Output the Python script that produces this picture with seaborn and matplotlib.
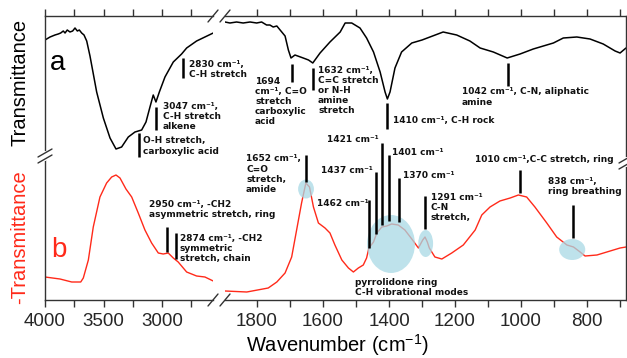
import numpy as np
import pandas as pd
import matplotlib
matplotlib.use("Agg")
import matplotlib.pyplot as plt
from matplotlib.patches import Ellipse
import seaborn as sns

# ---------------- data ----------------
# curve a (Transmittance, offset upward), high-wavenumber segment
a_hi_wn = [4000, 3957, 3915, 3887, 3866, 3844, 3829, 3810, 3787, 3764, 3744, 3724, 3707,
           3687, 3667, 3644, 3616, 3559, 3502, 3445, 3394, 3346, 3289,
           3232, 3175, 3138, 3104, 3076, 3053, 3024, 2976, 2905, 2834, 2791, 2706, 2564]
a_hi_t = [260, 263, 265, 266, 267, 269, 267, 270, 268, 269, 272, 269, 270,
          267, 265, 259, 244, 208, 182, 162, 151, 153, 163,
          168, 170, 178, 193, 205, 198, 208, 223, 238, 246, 252, 259, 267]
# curve a, fingerprint segment
a_lo_wn = [1897, 1882, 1862, 1842, 1821, 1801, 1786, 1771, 1761, 1751, 1740, 1730, 1715,
           1705, 1697, 1685, 1660, 1644, 1631, 1609,
           1579, 1548, 1533, 1513, 1488, 1468, 1447, 1427, 1412, 1405, 1397, 1382, 1362,
           1331, 1300, 1236, 1195, 1155, 1124, 1084, 1042, 1003, 963, 902, 872, 831, 791,
           751, 715, 700, 682]
a_lo_t = [278, 277, 278, 277, 278, 277, 278, 275, 275, 273, 274, 270, 264,
          250, 242, 245, 242, 240, 237, 247,
          258, 268, 277, 277, 272, 262, 248, 228, 208, 201, 208, 232, 248,
          257, 260, 268, 265, 259, 252, 248, 242, 246, 251, 257, 262, 263, 261,
          256, 249, 247, 252]
# curve b (-Transmittance), high-wavenumber segment
b_hi_wn = [4000, 3872, 3772, 3695, 3673, 3630, 3588, 3531, 3474, 3431, 3394, 3360, 3309,
           3260, 3204, 3147, 3090, 3033, 2991, 2948, 2905, 2863, 2791, 2706, 2635, 2564]
b_hi_t = [23, 21, 18, 18, 22, 40, 73, 103, 117, 123, 125, 122, 111,
          103, 87, 70, 57, 47, 46, 47, 42, 38, 28, 24, 23, 19]
# curve b, fingerprint segment
b_lo_wn = [1897, 1831, 1766, 1740, 1715, 1695, 1680, 1665, 1652, 1641, 1629, 1614, 1594,
           1579, 1564, 1543, 1523, 1508, 1493, 1478, 1468, 1461, 1447, 1437, 1422, 1407,
           1392, 1372, 1352, 1331, 1311, 1298, 1291, 1284, 1278, 1261, 1240, 1210, 1175,
           1139, 1119, 1094, 1064, 1033, 1008, 983, 958, 922, 892, 861, 841, 821, 806,
           770, 740, 700, 682]
b_lo_t = [9, 8, 12, 18, 27, 43, 70, 97, 117, 113, 93, 77, 72,
          67, 55, 40, 32, 28, 32, 35, 42, 52, 58, 67, 73, 74,
          76, 75, 70, 61, 52, 60, 63, 58, 52, 43, 41, 47, 55,
          70, 85, 93, 99, 102, 105, 103, 93, 77, 63, 55, 53, 48, 44,
          45, 48, 52, 53]

# annotations: (text, panel, line_wn, line_y0, line_y1, text_wn, text_y, va)
a_notes = [
    ("2830 cm⁻¹,\nC-H stretch", 0, 2822, 222, 242, 2771, 240, "top"),
    ("3047 cm⁻¹,\nC-H stretch\nalkene", 0, 3053, 170, 193, 2993, 198.5, "top"),
    ("O-H stretch,\ncarboxylic acid", 0, 3198, 143, 167, 3164, 163.5, "top"),
    ("1694\ncm⁻¹, C=O\nstretch\ncarboxylic\nacid", 1, 1694, 218, 236, 1806, 223.5, "top"),
    ("1632 cm⁻¹,\nC=C stretch\nor N-H\namine\nstretch", 1, 1631, 210, 232, 1615, 234, "top"),
    ("1410 cm⁻¹, C-H rock", 1, 1406, 171, 197, 1388, 179, "center"),
    ("1042 cm⁻¹, C-N, aliphatic\namine", 1, 1040, 214, 237, 1179, 212.5, "top"),
]
b_notes = [
    ("1652 cm⁻¹,\nC=O\nstretch,\namide", 1, 1651.5, 118, 145, 1833, 145.5, "top"),
    ("2950 cm⁻¹, -CH2\nasymmetric stretch, ring", 0, 2962, 48, 73, 3113, 100.5, "top"),
    ("2874 cm⁻¹, -CH2\nsymmetric\nstretch, chain", 0, 2885, 41, 67, 2848, 66.2, "top"),
    ("1462 cm⁻¹", 1, 1461, 52, 100, 1619, 97, "center"),
    ("1437 cm⁻¹", 1, 1440, 66, 128, 1607, 129.3, "center"),
    ("1421 cm⁻¹", 1, 1422, 75, 157, 1589, 160.7, "center"),
    ("1401 cm⁻¹", 1, 1400, 79, 145, 1392, 147.3, "center"),
    ("1370 cm⁻¹", 1, 1370, 78, 122, 1358.5, 124, "center"),
    ("1291 cm⁻¹\nC-N\nstretch,", 1, 1291, 71, 104, 1274, 107.2, "top"),
    ("1010 cm⁻¹,C-C stretch, ring", 1, 1004.5, 107, 130, 1139, 140.7, "center"),
    ("838 cm⁻¹,\nring breathing", 1, 841.5, 62, 95, 917, 123.2, "top"),
]
region_note = ("pyrrolidone ring\nC-H vibrational modes", 1503, 22.2)
# highlighted bands: (center wn, center y, width, height)
highlights = [(1651.5, 111, 48, 19), (1394, 56, 145, 58), (1289, 56.5, 45, 27), (845, 50.5, 79, 21)]

# ---------------- figure ----------------
sns.set_style("ticks")
plt.rcParams["font.family"] = ["Liberation Sans", "DejaVu Sans"]
plt.rcParams["mathtext.fontset"] = "custom"
plt.rcParams["mathtext.rm"] = "Liberation Sans"
plt.rcParams["mathtext.it"] = "Liberation Sans:italic"

W, H = 627, 358
fig = plt.figure(figsize=(W / 100, H / 100), dpi=100)
fig.patch.set_facecolor("white")
bottom, top = 300, 16
axL = fig.add_axes([45 / W, (H - bottom) / H, (213 - 45) / W, (bottom - top) / H])
axR = fig.add_axes([225 / W, (H - bottom) / H, (626 - 225) / W, (bottom - top) / H])
axes = [axL, axR]
for ax in axes:
    ax.set_facecolor("none")
    ax.set_ylim(0, 284)
    ax.set_yticks([])

RED = "#ff2a1a"
sns.lineplot(x=a_hi_wn, y=a_hi_t, ax=axL, color="black", linewidth=1.1, sort=False)
sns.lineplot(x=b_hi_wn, y=b_hi_t, ax=axL, color=RED, linewidth=1.0, sort=False)
sns.lineplot(x=a_lo_wn, y=a_lo_t, ax=axR, color="black", linewidth=1.1, sort=False)
sns.lineplot(x=b_lo_wn, y=b_lo_t, ax=axR, color=RED, linewidth=1.0, sort=False)

axL.set_xlim(4000, 2566)
axR.set_xlim(1897, 682)

axL.set_xticks([4000, 3500, 3000])
axL.set_xticks([3750, 3250, 2750], minor=True)
axR.set_xticks([1800, 1600, 1400, 1200, 1000, 800])
axR.set_xticks([1700, 1500, 1300, 1100, 900, 700], minor=True)
for ax in axes:
    ax.set_ylabel("")
    ax.set_xlabel("")
    ax.tick_params(axis="x", which="both", direction="out", top=True, bottom=True,
                   length=5, width=1, color="#333333", labelsize=13.5, pad=4)
    for s in ax.spines.values():
        s.set_color("#333333")
        s.set_linewidth(1)
axL.spines["right"].set_visible(False)
axR.spines["left"].set_visible(False)
axR.spines["right"].set_visible(True)
axL.spines["left"].set_visible(True)

# highlighted bands
for (cx, cy, w, h) in highlights:
    axR.add_patch(Ellipse((cx, cy), w, h, facecolor="#a9d9e5", edgecolor="none",
                          alpha=0.75, zorder=5))

ann_kw = dict(fontsize=6.5, fontweight="bold", family="DejaVu Sans", color="#111111",
              linespacing=1.15, ha="left", clip_on=False, zorder=6)
for notes in (a_notes, b_notes):
    for (txt, p, lw_, y0, y1, tx, ty, va) in notes:
        ax = axes[p]
        ax.vlines(lw_, y0, y1, color="black", linewidth=1.8, zorder=6, clip_on=False)
        ax.text(tx, ty, txt, va=va, **ann_kw)
axR.text(region_note[1], region_note[2], region_note[0], va="top", **ann_kw)

# panel letters
axL.text(3889, 237, "a", fontsize=20, color="black", ha="center", va="center")
axL.text(3880, 50, "b", fontsize=20, color=RED, ha="center", va="center")

# axis labels
fig.text(20 / W, 1 - 82 / H, "Transmittance", rotation=90, ha="center", va="center",
         fontsize=14.5, color="black")
fig.text(20 / W, 1 - 237 / H, "-Transmittance", rotation=90, ha="center", va="center",
         fontsize=14.5, color=RED)
fig.text(337 / W, 1 - 345 / H, "Wavenumber (cm$^{-1}$)", ha="center", va="center",
         fontsize=14.5, color="black")

# break marks on x axis
bk = dict(color="#333333", linewidth=1, clip_on=False, zorder=7)
for yy in (0, 1):
    axL.plot([1 - 5 / 168, 1 + 5 / 168], [yy - 6 / 284, yy + 6 / 284], transform=axL.transAxes, **bk)
    axR.plot([-5 / 401, 5 / 401], [yy - 6 / 284, yy + 6 / 284], transform=axR.transAxes, **bk)

# break marks on y axes
for ax, xa, wpx, ycen in ((axL, 0, 168, (300 - 156) / 284), (axR, 1, 401, (300 - 162) / 284)):
    gap = 3 / 284
    ax.plot([xa, xa], [ycen - gap, ycen + gap], transform=ax.transAxes, color="white",
            linewidth=3, clip_on=False, zorder=7)
    for off in (-gap, gap):
        ax.plot([xa - 7 / wpx, xa + 7 / wpx], [ycen + off - 4 / 284, ycen + off + 4 / 284],
                transform=ax.transAxes, **bk)

fig.savefig("out.png", dpi=100, facecolor="white")
